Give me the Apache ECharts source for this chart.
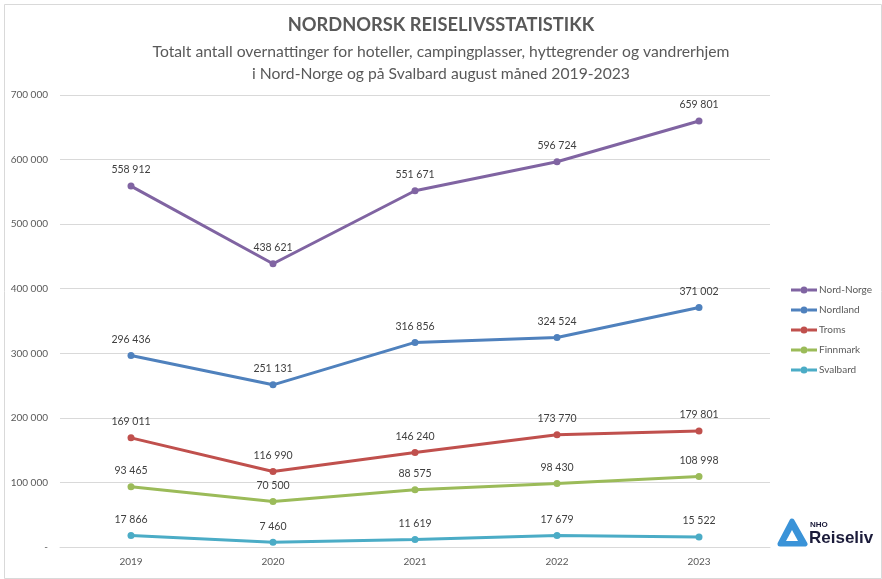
<!DOCTYPE html>
<html><head><meta charset="utf-8">
<script src="https://cdn.jsdelivr.net/npm/echarts@6/dist/echarts.min.js"></script>
<style>html,body{margin:0;padding:0;background:#fff}#c{width:882px;height:579px}</style>
</head><body><div id="c"></div>
<script>
const years = ['2019','2020','2021','2022','2023'];
const nordNorge = [558912, 438621, 551671, 596724, 659801];
const nordland = [296436, 251131, 316856, 324524, 371002];
const troms = [169011, 116990, 146240, 173770, 179801];
const finnmark = [93465, 70500, 88575, 98430, 108998];
const svalbard = [17866, 7460, 11619, 17679, 15522];
const seriesNames = ['Nord-Norge','Nordland','Troms','Finnmark','Svalbard'];
const colors = ['#8064A2','#4F81BD','#C0504D','#9BBB59','#4BACC6'];
const FONT = 'Lato, "Open Sans", sans-serif';
function fmt(v){ if(v===0) return '-'; return String(v).replace(/\B(?=(\d{3})+(?!\d))/g,' '); }
const data = [nordNorge, nordland, troms, finnmark, svalbard];
const legendIcon = 'path://M0,2h9.5v3h-9.5z M16.5,2h9.5v3h-9.5z M9.5,3.5a3.5,3.5 0 1,1 7,0a3.5,3.5 0 1,1 -7,0z';
const chart = echarts.init(document.getElementById('c'));
chart.setOption({
  animation:false,
  color: colors,
  title:[
    {text:'NORDNORSK REISELIVSSTATISTIKK', left:'center', top:11,
     textStyle:{fontFamily:FONT, fontSize:18.3, fontWeight:'bold', color:'#595959'}},
    {text:'Totalt antall overnattinger for hoteller, campingplasser, hyttegrender og vandrerhjem', left:'center', top:39,
     textStyle:{fontFamily:FONT, fontSize:15.7, fontWeight:'normal', color:'#595959'}},
    {text:'i Nord-Norge og på Svalbard august måned 2019-2023', left:'center', top:61,
     textStyle:{fontFamily:FONT, fontSize:15.7, fontWeight:'normal', color:'#595959'}}
  ],
  legend:{orient:'vertical', left:786, top:280, itemGap:10, itemWidth:26, itemHeight:7,
    icon: legendIcon,
    textStyle:{fontFamily:FONT, fontSize:10, color:'#595959', padding:[0,0,0,-3]},
    data: seriesNames},
  grid:{left:60, right:112, top:95, bottom:32},
  xAxis:{type:'category', data:years, boundaryGap:true,
    axisLine:{lineStyle:{color:'#D9D9D9'}}, axisTick:{show:false},
    axisLabel:{fontFamily:FONT, fontSize:10, color:'#595959', margin:10}},
  yAxis:{type:'value', min:0, max:700000, interval:100000,
    axisLine:{show:false}, axisTick:{show:false},
    splitLine:{lineStyle:{color:'#D9D9D9'}},
    axisLabel:{fontFamily:FONT, fontSize:10, color:'#595959', margin:12, formatter:fmt}},
  series: data.map((d,i)=>({
    name:seriesNames[i], type:'line', data:d, symbol:'circle', symbolSize:7,
    lineStyle:{width:3, color:colors[i]}, itemStyle:{color:colors[i]},
    label:{show:true, position:'top', distance:7, fontFamily:FONT, fontSize:10.5, color:'#404040',
      formatter:p=>fmt(p.value)}
  })),
  graphic:[
    {type:'rect', left:2, top:2, shape:{width:877, height:574}, style:{fill:null, stroke:'#D9D9D9', lineWidth:1}, silent:true, z:-1},
    {type:'polygon', shape:{points:[[792,521],[805,544],[780,544]]}, style:{fill:'#3A93D8', stroke:'#3A93D8', lineWidth:5, lineJoin:'round'}},
    {type:'polygon', shape:{points:[[792,530],[798,541],[786,541]]}, style:{fill:'#ffffff'}},
    {type:'text', left:810, top:521, style:{text:'NHO', fontFamily:'"Liberation Sans", sans-serif', fontSize:8, fontWeight:'bold', fill:'#1b1b3a'}},
    {type:'text', left:809, top:530, style:{text:'Reiseliv', fontFamily:'"Liberation Sans", sans-serif', fontSize:17, fontWeight:'bold', fill:'#1b1b3a'}}
  ]
});
</script></body></html>
